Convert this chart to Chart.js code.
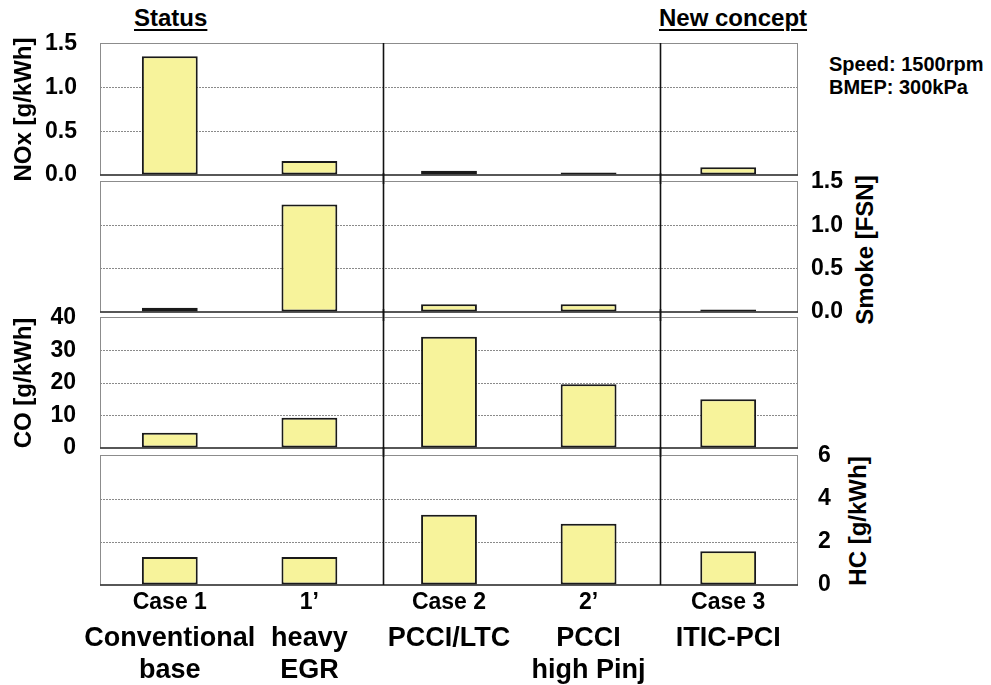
<!DOCTYPE html>
<html>
<head>
<meta charset="utf-8">
<script src="https://cdn.jsdelivr.net/npm/chart.js@4/dist/chart.umd.min.js"></script>
<style>
html,body{margin:0;padding:0;background:#fff;}
#wrap{position:relative;width:991px;height:685px;overflow:hidden;font-family:"Liberation Sans",Arial,sans-serif;font-weight:bold;color:#000;}
#wrap canvas{position:absolute;left:0;}
.hd{position:absolute;font-size:24px;line-height:24px;text-decoration:underline;text-decoration-thickness:2px;text-underline-offset:3px;white-space:nowrap;}
.note{position:absolute;font-size:20px;line-height:23px;white-space:nowrap;}
.rt{position:absolute;font-size:24px;line-height:24px;white-space:nowrap;transform:translate(-50%,-50%) rotate(-90deg);}
</style>
</head>
<body>
<div id="wrap">
  <div class="hd" style="left:134px;top:6px;">Status</div>
  <div class="hd" style="left:659px;top:6px;">New concept</div>
  <div class="note" style="left:829px;top:53px;">Speed: 1500rpm<br>BMEP: 300kPa</div>
  <div class="rt" style="left:865px;top:250px;">Smoke [FSN]</div>
  <div class="rt" style="left:858px;top:521px;">HC [g/kWh]</div>
</div>
<script>
// ---- data ----
const categories = ['Case 1', '1\u2019', 'Case 2', '2\u2019', 'Case 3'];
const descLabels = [['Conventional', 'base'], ['heavy', 'EGR'], ['PCCI/LTC'], ['PCCI', 'high Pinj'], ['ITIC-PCI']];
const noxValues   = [1.36, 0.16, 0.05, 0.03, 0.09];
const smokeValues = [0.05, 1.24, 0.09, 0.09, 0.03];
const coValues    = [4.7, 9.3, 34.2, 19.6, 15.0];
const hcValues    = [1.3, 1.3, 3.27, 2.85, 1.57];
const noxTicks   = [0, 0.5, 1.0, 1.5];
const smokeTicks = [0, 0.5, 1.0, 1.5];
const coTicks    = [0, 10, 20, 30, 40];
const hcTicks    = [0, 2, 4, 6];
// group separators (category index positions): Status | Case 2 group | New concept
const groupBoundaries = [1.53, 3.51];

// ---- layout / style ----
const W = 991;
const PAD = 40;
const FONT = "'Liberation Sans', Arial, sans-serif";
const panels = [
  {values: noxValues,   ticks: noxTicks,   digits: 1, pos: 'left',  top: 44,  bottom: 175, title: 'NOx [g/kWh]', tickPad: 23},
  {values: smokeValues, ticks: smokeTicks, digits: 1, pos: 'right', top: 182, bottom: 312, tickPad: 13},
  {values: coValues,    ticks: coTicks,    digits: 0, pos: 'left',  top: 318, bottom: 448, title: 'CO [g/kWh]', tickPad: 24},
  {values: hcValues,    ticks: hcTicks,    digits: 0, pos: 'right', top: 456, bottom: 585, tickPad: 20, xAxes: true}
];

const wrap = document.getElementById('wrap');

const framePlugin = {
  id: 'frame',
  beforeDatasetsDraw(chart) {
    const {ctx, chartArea: a} = chart;
    ctx.save();
    ctx.strokeStyle = '#8c8c8c';
    ctx.lineWidth = 1;
    ctx.strokeRect(a.left + 0.5, a.top - 0.5, a.right - a.left - 1, a.bottom - a.top + 0.5);
    ctx.strokeStyle = '#333';
    ctx.lineWidth = 1.5;
    ctx.beginPath();
    ctx.moveTo(a.left, a.bottom);
    ctx.lineTo(a.right, a.bottom);
    ctx.stroke();
    ctx.restore();
  },
  afterDatasetsDraw(chart, args, opts) {
    const {ctx, chartArea: a} = chart;
    const xs = chart.scales.x;
    ctx.save();
    ctx.strokeStyle = '#111';
    ctx.lineWidth = 1.6;
    groupBoundaries.forEach(b => {
      const px = Math.round(xs.getPixelForValue(b)) + 0.5;
      ctx.beginPath();
      ctx.moveTo(px, a.top - (opts.first ? 1 : 9));
      ctx.lineTo(px, a.bottom + (opts.last ? 0 : 9));
      ctx.stroke();
    });
    ctx.restore();
  }
};

panels.forEach((p, i) => {
  const last = i === panels.length - 1;
  const canvasTop = p.top - PAD;
  const height = last ? 685 - canvasTop : (p.bottom - p.top + 2 * PAD);
  const cv = document.createElement('canvas');
  cv.width = W; cv.height = height;
  cv.style.top = canvasTop + 'px';
  cv.style.width = W + 'px'; cv.style.height = height + 'px';
  wrap.appendChild(cv);

  const maxV = p.ticks[p.ticks.length - 1];
  const axisW = p.pos === 'left' ? 100 : 193;

  const scales = {
    x: {
      type: 'category',
      display: !!p.xAxes,
      offset: true,
      grid: {display: false, drawTicks: false},
      border: {display: false},
      ticks: {
        font: {family: FONT, size: 23, weight: 'bold'},
        color: '#000',
        padding: 4,
        maxRotation: 0,
        autoSkip: false
      },
      afterFit: s => { s.height = p.xAxes ? 32 : 0; }
    },
    y: {
      position: p.pos,
      min: 0,
      max: maxV,
      afterBuildTicks: s => { s.ticks = p.ticks.map(v => ({value: v})); },
      afterFit: s => { s.width = axisW; },
      grid: {
        drawTicks: false,
        color: c => (c.tick && (c.tick.value === 0 || c.tick.value === maxV)) ? 'rgba(0,0,0,0)' : '#8a8a8a',
        lineWidth: 1
      },
      border: {display: false, dash: [2, 1]},
      ticks: {
        font: {family: FONT, size: 23, weight: 'bold'},
        color: '#000',
        padding: p.tickPad,
        autoSkip: false,
        callback: v => Number(v).toFixed(p.digits)
      },
      title: p.title ? {
        display: true,
        text: p.title,
        font: {family: FONT, size: 24, weight: 'bold'},
        color: '#000',
        padding: {top: 10, bottom: 0}
      } : {display: false}
    }
  };
  if (p.xAxes) {
    scales.x2 = {
      type: 'category',
      position: 'bottom',
      weight: 1,
      offset: true,
      grid: {display: false, drawTicks: false},
      border: {display: false},
      ticks: {
        font: {family: FONT, size: 27, weight: 'bold', lineHeight: 1.2},
        color: '#000',
        padding: 5,
        maxRotation: 0,
        autoSkip: false,
        callback: (v, idx) => descLabels[idx]
      },
      afterFit: s => { s.height = 68; }
    };
  }

  new Chart(cv, {
    type: 'bar',
    data: {
      labels: categories,
      datasets: [{
        data: p.values,
        backgroundColor: '#F7F39B',
        borderColor: '#1a1a1a',
        borderWidth: 2,
        borderSkipped: false,
        barPercentage: 0.4,
        categoryPercentage: 1.0
      }]
    },
    options: {
      responsive: false,
      animation: false,
      devicePixelRatio: 1,
      layout: {
        padding: {
          left: p.pos === 'left' ? 0 : 100,
          right: p.pos === 'left' ? 193 : 0,
          top: PAD,
          bottom: last ? 0 : PAD
        }
      },
      plugins: {
        legend: {display: false},
        tooltip: {enabled: false},
        frame: {first: i === 0, last: last}
      },
      scales
    },
    plugins: [framePlugin]
  });
});
</script>
</body>
</html>
